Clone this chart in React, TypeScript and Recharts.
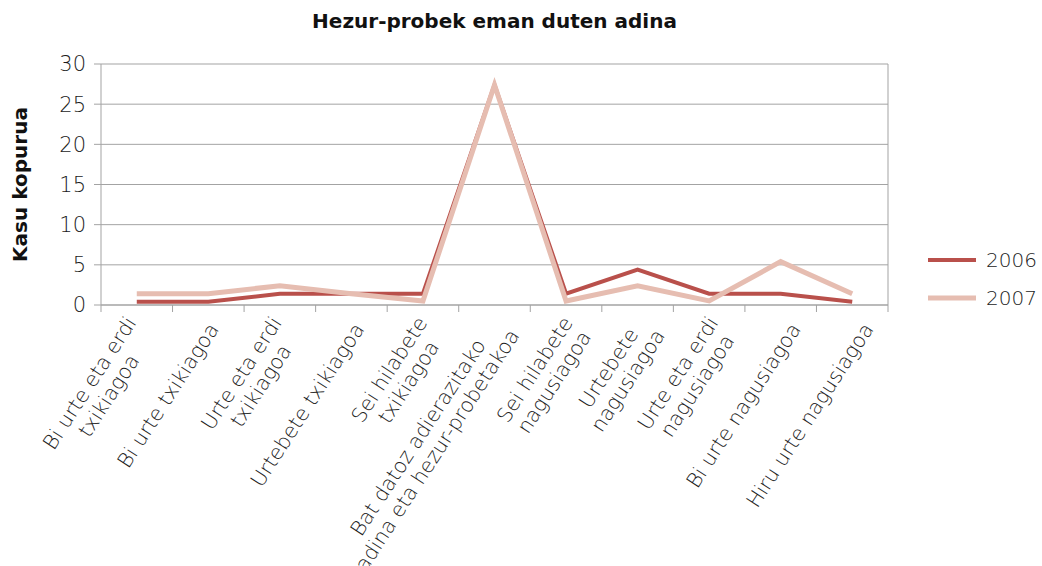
import { ComposedChart, Line, XAxis, YAxis, CartesianGrid, Legend } from "recharts";

const categories = [
  "Bi urte eta erdi\ntxikiagoa",
  "Bi urte txikiagoa",
  "Urte eta erdi\ntxikiagoa",
  "Urtebete txikiagoa",
  "Sei hilabete\ntxikiagoa",
  "Bat datoz adierazitako\nadina eta hezur-probetakoa",
  "Sei hilabete\nnagusiagoa",
  "Urtebete\nnagusiagoa",
  "Urte eta erdi\nnagusiagoa",
  "Bi urte nagusiagoa",
  "Hiru urte nagusiagoa",
];

const cases2006 = [0.4, 0.4, 1.4, 1.4, 1.4, 27.4, 1.4, 4.4, 1.4, 1.4, 0.4];
const cases2007 = [1.4, 1.4, 2.4, 1.4, 0.5, 27.4, 0.5, 2.4, 0.5, 5.4, 1.4];

const yTicks = [0, 5, 10, 15, 20, 25, 30];

const FONT = '"DejaVu Sans", sans-serif';
const AXIS = "#a3a3a3";
const TEXT = "#1c1c1c";
const LIGHT = 200;
const LABEL_SIZE = 20.5;
const LINE_H = 23;

const series = [
  { key: "y2006", name: "2006", color: "#b9504b", width: 4 },
  { key: "y2007", name: "2007", color: "#e6bdb1", width: 5 },
];

const data = categories.map((name, i) => ({
  name,
  y2006: cases2006[i],
  y2007: cases2007[i],
}));

let ctx: CanvasRenderingContext2D | null = null;
function textWidth(s: string) {
  if (!ctx) ctx = document.createElement("canvas").getContext("2d");
  if (!ctx) return s.length * LABEL_SIZE * 0.6;
  ctx.font = `${LIGHT} ${LABEL_SIZE}px "DejaVu Sans"`;
  return ctx.measureText(s).width;
}

function CategoryTick(props: any) {
  const { x, y, payload, index, width, visibleTicksCount } = props;
  const count = visibleTicksCount || categories.length;
  const bw = (width || 787) / count;
  const lines = String(payload.value).split("\n");
  const widths = lines.map(textWidth);
  const maxW = Math.max(...widths);
  // Excel-ish placement: right end of the rotated block sits just below the axis
  const ax = x + 4 + index * 1.2;
  const ay = y + 20;
  return (
    <g>
      <line x1={x - bw / 2} x2={x - bw / 2} y1={y} y2={y + 7} stroke={AXIS} />
      {index === count - 1 && <line x1={x + bw / 2} x2={x + bw / 2} y1={y} y2={y + 7} stroke={AXIS} />}
      <text
        transform={`translate(${ax},${ay}) rotate(-57)`}
        fontSize={LABEL_SIZE}
        fontFamily={FONT}
        fontWeight={LIGHT}
        fill={TEXT}
        textAnchor="end"
      >
        {lines.map((l, i) => (
          <tspan key={i} x={-(maxW - widths[i]) / 2} y={(i - (lines.length - 1) / 2) * LINE_H} dy="0.35em">
            {l}
          </tspan>
        ))}
      </text>
    </g>
  );
}

function YLabel(props: any) {
  const vb = props.viewBox || { y: 64, height: 241 };
  const cy = vb.y + vb.height / 2;
  return (
    <text
      transform={`translate(27,${cy}) rotate(-90)`}
      textAnchor="middle"
      fontSize={20}
      fontWeight="bold"
      fontFamily={FONT}
      fill="#111"
    >
      Kasu kopurua
    </text>
  );
}

const renderLegend = () => (
  <div style={{ fontFamily: FONT, fontSize: 20, fontWeight: LIGHT, color: TEXT }}>
    {series.map((s) => (
      <div key={s.key} style={{ display: "flex", alignItems: "center", height: 38 }}>
        <svg width={48} height={10}>
          <line x1={0} x2={48} y1={5} y2={5} stroke={s.color} strokeWidth={s.width} />
        </svg>
        <span style={{ marginLeft: 10 }}>{s.name}</span>
      </div>
    ))}
  </div>
);

export default function App() {
  return (
    <div style={{ position: "absolute", left: 0, top: 0, width: 1042, height: 566, background: "#fff" }}>
      <div
        style={{
          position: "absolute",
          left: 101,
          width: 787,
          top: 9,
          textAlign: "center",
          fontFamily: FONT,
          fontWeight: "bold",
          fontSize: 20,
          color: "#111",
        }}
      >
        Hezur-probek eman duten adina
      </div>
      <ComposedChart width={1042} height={566} data={data} margin={{ top: 64, right: 154, bottom: 0, left: 0 }}>
        <CartesianGrid
          stroke={AXIS}
          verticalCoordinatesGenerator={({ offset }: any) => [offset.left + offset.width]}
        />
        <XAxis
          dataKey="name"
          scale="band"
          interval={0}
          height={261}
          tickLine={false}
          tickSize={0}
          tickMargin={0}
          axisLine={{ stroke: AXIS }}
          tick={<CategoryTick />}
        />
        <YAxis
          domain={[0, 30]}
          ticks={yTicks}
          width={101}
          tickSize={7}
          tickMargin={8}
          axisLine={{ stroke: AXIS }}
          tickLine={{ stroke: AXIS }}
          tick={{ fontSize: 21, fontFamily: FONT, fontWeight: LIGHT, fill: TEXT }}
          label={<YLabel />}
        />
        <Legend
          layout="vertical"
          align="center"
          verticalAlign="middle"
          content={renderLegend}
          wrapperStyle={{ left: 928, top: 241, width: 120 }}
        />
        {series.map((s) => (
          <Line
            key={s.key}
            dataKey={s.key}
            name={s.name}
            stroke={s.color}
            strokeWidth={s.width}
            dot={false}
            activeDot={false}
            isAnimationActive={false}
          />
        ))}
      </ComposedChart>
    </div>
  );
}
